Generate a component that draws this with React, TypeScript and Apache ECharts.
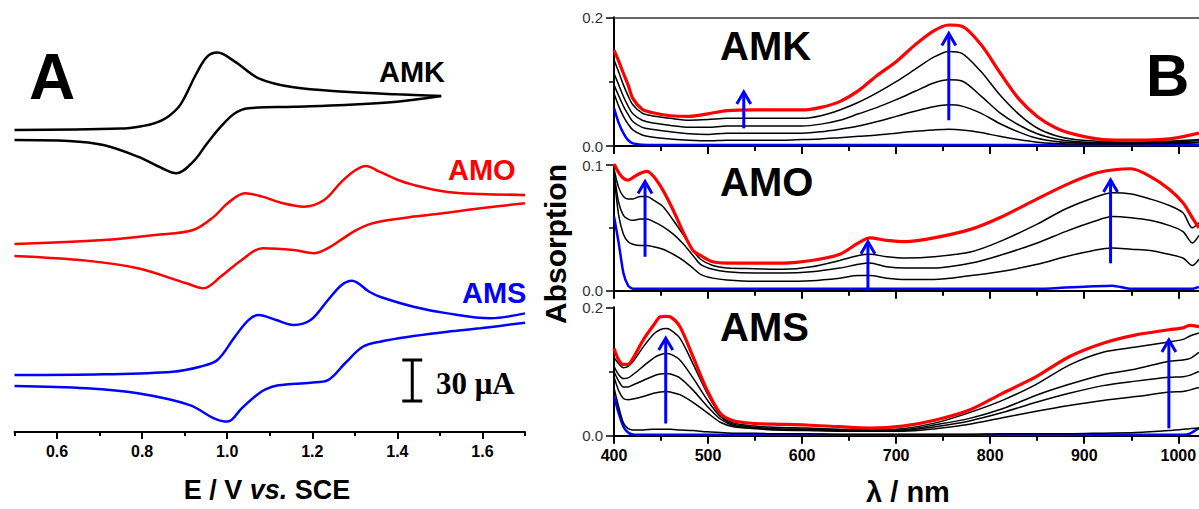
import React, { useEffect, useRef } from "react";
import * as echarts from "echarts";

// ---------------- Panel A: cyclic voltammograms (E in V, I in µA relative to start) -------------
const cvNames = ["AMK", "AMO", "AMS"];
const cvColors = ["#000000", "#ff0000", "#0000ff"];
const cvOffsets = [221, 137.6, 41.7];

const amkFwdE = [0.5, 0.75, 0.8, 0.83, 0.86, 0.89, 0.928, 0.953, 0.977, 1.018, 1.074, 1.156, 1.277, 1.399, 1.503];
const amkFwdI = [0, 1.0, 2.8, 5.0, 9.5, 18.5, 41.5, 53.6, 56.6, 50.0, 37.8, 31.2, 28.0, 26.1, 24.9];
const amkRevE = [0.5, 0.628, 0.709, 0.79, 0.847, 0.88, 0.92, 0.953, 0.985, 1.018, 1.05, 1.156, 1.277, 1.399, 1.503];
const amkRevI = [-7.3, -8.0, -11.0, -19.5, -28.0, -31.7, -23.2, -9.7, 2.4, 12.2, 15.9, 17.0, 18.3, 20.7, 24.9];

const amoFwdE = [0.5, 0.709, 0.831, 0.92, 0.969, 1.001, 1.042, 1.083, 1.131, 1.18, 1.228, 1.269, 1.302, 1.326, 1.358, 1.4, 1.438, 1.518, 1.595, 1.7];
const amoFwdI = [0, 2.9, 6.6, 10.2, 20.0, 29.8, 37.1, 34.6, 29.8, 27.3, 32.2, 45.6, 54.1, 57.1, 52.9, 47.0, 43.2, 38.0, 36.6, 35.9];
const amoRevE = [0.5, 0.669, 0.79, 0.904, 0.944, 0.985, 1.034, 1.083, 1.156, 1.204, 1.237, 1.27, 1.3, 1.33, 1.36, 1.438, 1.518, 1.595, 1.7];
const amoRevI = [-8.8, -12.2, -17.8, -28.8, -32.4, -23.9, -11.7, -3.1, -4.4, -6.8, -3.0, 3.5, 9.5, 14.0, 16.5, 20.0, 22.9, 26.1, 29.8];

const amsFwdE = [0.5, 0.709, 0.872, 0.936, 0.977, 1.018, 1.05, 1.074, 1.115, 1.156, 1.196, 1.237, 1.269, 1.293, 1.334, 1.359, 1.438, 1.518, 1.618, 1.7];
const amsFwdI = [0, 0.5, 2.4, 6.1, 11.0, 28.0, 40.2, 43.9, 40.2, 36.6, 40.2, 54.9, 65.9, 69.0, 60.9, 57.3, 50.0, 45.1, 41.5, 45.1];
const amsRevE = [0.5, 0.669, 0.79, 0.912, 0.969, 1.001, 1.034, 1.066, 1.09, 1.12, 1.196, 1.237, 1.277, 1.318, 1.359, 1.438, 1.518, 1.595, 1.7];
const amsRevI = [-8.0, -9.7, -13.4, -22.0, -31.7, -34.1, -24.4, -15.5, -10.5, -7.5, -5.6, -3.7, 8.6, 20.5, 24.4, 28.5, 31.7, 34.2, 38.3];

const cvTicksMajor = [0.6, 0.8, 1.0, 1.2, 1.4, 1.6];
const scaleBarE = 1.435;
const scaleBarBase = 22.7;
const scaleBarSpan = 30; // µA
const scaleBarCap = 0.0235;

// ---------------- Panel B: absorption spectra -------------
const amkWl = [400, 405, 410, 415, 420, 430, 440, 460, 480, 500, 520, 550, 580, 600, 620, 640, 660, 680, 700, 720, 740, 756, 770, 790, 810, 830, 850, 870, 890, 920, 950, 980, 1000, 1022];
const amkRed = [0.149, 0.132, 0.113, 0.095, 0.074, 0.057, 0.052, 0.047, 0.046, 0.05, 0.055, 0.056, 0.056, 0.056, 0.06, 0.069, 0.086, 0.11, 0.131, 0.157, 0.179, 0.188, 0.186, 0.158, 0.115, 0.074, 0.046, 0.028, 0.018, 0.01, 0.009, 0.01, 0.013, 0.02];
const amkBlack1 = [0.134, 0.115, 0.095, 0.078, 0.064, 0.051, 0.047, 0.043, 0.04, 0.041, 0.043, 0.043, 0.043, 0.043, 0.047, 0.056, 0.068, 0.083, 0.1, 0.119, 0.138, 0.147, 0.144, 0.116, 0.08, 0.05, 0.028, 0.016, 0.01, 0.007, 0.006, 0.007, 0.008, 0.01];
const amkBlack2 = [0.113, 0.095, 0.077, 0.062, 0.05, 0.04, 0.036, 0.032, 0.029, 0.029, 0.031, 0.031, 0.031, 0.031, 0.034, 0.04, 0.05, 0.06, 0.072, 0.085, 0.098, 0.103, 0.101, 0.078, 0.052, 0.033, 0.019, 0.011, 0.007, 0.005, 0.005, 0.006, 0.007, 0.008];
const amkBlack3 = [0.095, 0.078, 0.062, 0.049, 0.038, 0.029, 0.026, 0.022, 0.019, 0.018, 0.02, 0.02, 0.02, 0.02, 0.022, 0.026, 0.031, 0.038, 0.046, 0.054, 0.061, 0.064, 0.062, 0.051, 0.035, 0.022, 0.012, 0.007, 0.005, 0.004, 0.004, 0.005, 0.005, 0.006];
const amkBlack4 = [0.082, 0.062, 0.046, 0.034, 0.025, 0.017, 0.014, 0.011, 0.009, 0.008, 0.009, 0.009, 0.009, 0.01, 0.011, 0.013, 0.015, 0.017, 0.02, 0.023, 0.025, 0.026, 0.025, 0.021, 0.015, 0.01, 0.006, 0.004, 0.003, 0.003, 0.003, 0.004, 0.004, 0.005];
const amkBlue = [0.059, 0.036, 0.02, 0.009, 0.004, 0.002, 0.0015, 0.0015, 0.0015, 0.0015, 0.0015, 0.0015, 0.0015, 0.0015, 0.0015, 0.0015, 0.0015, 0.0015, 0.0015, 0.0015, 0.0015, 0.0015, 0.0015, 0.0015, 0.0015, 0.0015, 0.0015, 0.0015, 0.0015, 0.0015, 0.0015, 0.0015, 0.0015, 0.0015];
const amkArrowWl = [538, 756];
const amkArrowFrom = [0.0275, 0.04];
const amkArrowTo = [0.084, 0.175];

const amoWl = [400, 405, 410, 415, 420, 428, 435, 442, 452, 463, 474, 484, 492, 505, 520, 550, 580, 610, 640, 660, 672, 690, 710, 740, 780, 810, 850, 880, 910, 930, 950, 970, 990, 1005, 1015, 1022];
const amoRed = [0.101, 0.094, 0.0895, 0.088, 0.09, 0.0935, 0.095, 0.091, 0.08, 0.064, 0.046, 0.032, 0.028, 0.023, 0.022, 0.022, 0.022, 0.024, 0.029, 0.038, 0.042, 0.04, 0.039, 0.042, 0.049, 0.058, 0.073, 0.084, 0.093, 0.096, 0.097, 0.091, 0.081, 0.07, 0.058, 0.05];
const amoBlack1 = [0.097, 0.082, 0.075, 0.073, 0.073, 0.075, 0.075, 0.072, 0.067, 0.056, 0.044, 0.032, 0.025, 0.02, 0.018, 0.0175, 0.017, 0.019, 0.024, 0.028, 0.029, 0.027, 0.026, 0.027, 0.031, 0.039, 0.053, 0.065, 0.074, 0.078, 0.077, 0.073, 0.068, 0.062, 0.05, 0.054];
const amoBlack2 = [0.095, 0.07, 0.06, 0.057, 0.056, 0.057, 0.057, 0.055, 0.051, 0.045, 0.037, 0.028, 0.021, 0.017, 0.015, 0.014, 0.014, 0.015, 0.018, 0.021, 0.022, 0.019, 0.018, 0.018, 0.022, 0.028, 0.038, 0.047, 0.055, 0.059, 0.058, 0.056, 0.052, 0.047, 0.038, 0.044];
const amoBlack3 = [0.092, 0.06, 0.045, 0.039, 0.037, 0.036, 0.036, 0.035, 0.033, 0.029, 0.024, 0.018, 0.013, 0.01, 0.0085, 0.0075, 0.0075, 0.008, 0.01, 0.012, 0.012, 0.01, 0.009, 0.009, 0.012, 0.015, 0.021, 0.027, 0.032, 0.034, 0.033, 0.032, 0.029, 0.026, 0.02, 0.025];
const amoBlue = [0.059, 0.038, 0.014, 0.004, 0.0015, 0.0015, 0.0015, 0.0015, 0.0015, 0.0015, 0.0015, 0.0015, 0.0015, 0.0015, 0.0015, 0.0015, 0.0015, 0.0015, 0.0015, 0.0015, 0.0015, 0.0015, 0.0015, 0.0015, 0.0015, 0.0015, 0.0015, 0.0025, 0.0035, 0.004, 0.0015, 0.0015, 0.0015, 0.0015, 0.0015, 0.003];
const amoArrowWl = [433, 670, 928];
const amoArrowFrom = [0.027, 0.0, 0.0218];
const amoArrowTo = [0.0868, 0.039, 0.088];

const amsWl = [400, 405, 410, 415, 420, 431, 442, 449, 455, 460, 470, 484, 499, 513, 527, 550, 570, 605, 640, 672, 707, 742, 778, 813, 849, 884, 920, 955, 990, 1005, 1012, 1022];
const amsRed = [0.136, 0.118, 0.111, 0.111, 0.12, 0.149, 0.172, 0.185, 0.186, 0.185, 0.17, 0.123, 0.071, 0.035, 0.0234, 0.019, 0.018, 0.0167, 0.014, 0.012, 0.015, 0.0245, 0.04, 0.066, 0.092, 0.123, 0.144, 0.157, 0.165, 0.168, 0.172, 0.17];
const amsBlack1 = [0.122, 0.112, 0.106, 0.108, 0.115, 0.138, 0.158, 0.165, 0.167, 0.165, 0.152, 0.112, 0.066, 0.033, 0.02, 0.015, 0.013, 0.012, 0.01, 0.009, 0.011, 0.02, 0.036, 0.055, 0.08, 0.11, 0.13, 0.138, 0.146, 0.15, 0.155, 0.16];
const amsBlack2 = [0.108, 0.095, 0.089, 0.09, 0.095, 0.108, 0.121, 0.126, 0.128, 0.127, 0.118, 0.09, 0.056, 0.03, 0.018, 0.013, 0.011, 0.01, 0.009, 0.008, 0.009, 0.017, 0.027, 0.042, 0.063, 0.08, 0.095, 0.104, 0.116, 0.118, 0.12, 0.13];
const amsBlack3 = [0.1, 0.085, 0.076, 0.076, 0.079, 0.086, 0.093, 0.096, 0.097, 0.096, 0.09, 0.071, 0.046, 0.026, 0.016, 0.012, 0.01, 0.009, 0.008, 0.0075, 0.008, 0.014, 0.023, 0.036, 0.052, 0.066, 0.078, 0.085, 0.091, 0.092, 0.094, 0.1];
const amsBlack4 = [0.092, 0.07, 0.058, 0.056, 0.057, 0.061, 0.066, 0.068, 0.069, 0.068, 0.064, 0.052, 0.036, 0.021, 0.014, 0.011, 0.009, 0.008, 0.007, 0.007, 0.007, 0.011, 0.018, 0.028, 0.038, 0.047, 0.055, 0.061, 0.068, 0.069, 0.071, 0.075];
const amsBlack5 = [0.075, 0.045, 0.02, 0.011, 0.009, 0.009, 0.01, 0.01, 0.01, 0.01, 0.009, 0.008, 0.006, 0.005, 0.004, 0.004, 0.003, 0.003, 0.002, 0.002, 0.002, 0.002, 0.002, 0.003, 0.003, 0.003, 0.004, 0.005, 0.008, 0.01, 0.011, 0.012];
const amsBlue = [0.062, 0.035, 0.014, 0.005, 0.002, 0.0015, 0.0015, 0.0015, 0.0015, 0.0015, 0.0015, 0.0015, 0.0015, 0.0015, 0.0015, 0.0015, 0.0015, 0.0015, 0.0015, 0.0015, 0.0015, 0.0015, 0.0015, 0.0015, 0.0015, 0.0015, 0.0015, 0.0015, 0.0015, 0.0015, 0.003, 0.012];
const amsArrowWl = [455, 990];
const amsArrowFrom = [0.019, 0.0115];
const amsArrowTo = [0.152, 0.149];

const FONT = '"Liberation Sans", Arial, sans-serif';

function zip(xs: number[], ys: number[], off = 0) {
  return xs.map((x, i) => [x, ys[i] + off]);
}

function arrowRender(params: any, api: any) {
  const x = api.value(0);
  const p0 = api.coord([x, api.value(1)]);
  const p1 = api.coord([x, api.value(2)]);
  const c = "#0000ff";
  return {
    type: "group",
    children: [
      { type: "line", shape: { x1: p0[0], y1: p0[1], x2: p1[0], y2: p1[1] + 1 }, style: { stroke: c, lineWidth: 3 } },
      {
        type: "polyline",
        shape: { points: [[p1[0] - 7, p1[1] + 12], [p1[0], p1[1]], [p1[0] + 7, p1[1] + 12]] },
        style: { stroke: c, lineWidth: 3, fill: null },
      },
    ],
  };
}

function buildOption() {
  const series: any[] = [];
  const line = (data: number[][], color: string, width: number, xi: number, yi: number, smooth = 0.3) => ({
    type: "line",
    data,
    xAxisIndex: xi,
    yAxisIndex: yi,
    showSymbol: false,
    symbol: "none",
    smooth,
    lineStyle: { color, width },
    itemStyle: { color },
    silent: true,
  });

  // Panel A
  const cv = [
    [amkFwdE, amkFwdI, amkRevE, amkRevI],
    [amoFwdE, amoFwdI, amoRevE, amoRevI],
    [amsFwdE, amsFwdI, amsRevE, amsRevI],
  ];
  cv.forEach((c, k) => {
    series.push(line(zip(c[0], c[1], cvOffsets[k]), cvColors[k], 2.5, 0, 0, 0.35));
    series.push(line(zip(c[2], c[3], cvOffsets[k]), cvColors[k], 2.5, 0, 0, 0.35));
  });
  const top = scaleBarBase + scaleBarSpan;
  series.push(line([[scaleBarE, scaleBarBase], [scaleBarE, top]], "#000", 3, 0, 0, 0));
  series.push(line([[scaleBarE - scaleBarCap, scaleBarBase], [scaleBarE + scaleBarCap, scaleBarBase]], "#000", 3, 0, 0, 0));
  series.push(line([[scaleBarE - scaleBarCap, top], [scaleBarE + scaleBarCap, top]], "#000", 3, 0, 0, 0));

  // Panel B
  const panels = [
    { wl: amkWl, blue: amkBlue, blacks: [amkBlack4, amkBlack3, amkBlack2, amkBlack1], red: amkRed, ax: [amkArrowWl, amkArrowFrom, amkArrowTo], xi: 2, yi: 1 },
    { wl: amoWl, blue: amoBlue, blacks: [amoBlack3, amoBlack2, amoBlack1], red: amoRed, ax: [amoArrowWl, amoArrowFrom, amoArrowTo], xi: 4, yi: 2 },
    { wl: amsWl, blue: amsBlue, blacks: [amsBlack5, amsBlack4, amsBlack3, amsBlack2, amsBlack1], red: amsRed, ax: [amsArrowWl, amsArrowFrom, amsArrowTo], xi: 5, yi: 3 },
  ];
  panels.forEach((p) => {
    series.push(line(zip(p.wl, p.blue), "#0000ff", 2.5, p.xi, p.yi, 0.2));
    p.blacks.forEach((b) => series.push(line(zip(p.wl, b), "#000000", 1.5, p.xi, p.yi, 0.3)));
    series.push(line(zip(p.wl, p.red), "#ff0000", 3.2, p.xi, p.yi, 0.3));
    series.push({
      type: "custom",
      xAxisIndex: p.xi,
      yAxisIndex: p.yi,
      data: p.ax[0].map((w, i) => [w, p.ax[1][i], p.ax[2][i]]),
      encode: { x: 0, y: [1, 2] },
      renderItem: arrowRender,
      clip: false,
      z: 10,
      silent: true,
    });
  });

  const bX = (gridIndex: number, labels: boolean) => ({
    type: "value",
    gridIndex,
    min: 400,
    max: 1050,
    interval: 100,
    position: "bottom",
    axisLine: { show: true, onZero: false, lineStyle: { color: "#000", width: 2 } },
    axisTick: { show: true, length: 8, inside: false, lineStyle: { color: "#000", width: 2 } },
    minorTick: { show: true, splitNumber: 2, length: 5, lineStyle: { color: "#000", width: 2 } },
    splitLine: { show: false },
    minorSplitLine: { show: false },
    axisLabel: labels
      ? {
          show: true,
          margin: 12,
          color: "#000",
          fontFamily: FONT,
          fontWeight: "bold",
          fontSize: 16,
          formatter: (v: number) => (v % 100 === 0 && v <= 1000 ? String(v) : ""),
        }
      : { show: false },
  });

  const bY = (gridIndex: number, max: number) => ({
    type: "value",
    gridIndex,
    min: 0,
    max,
    interval: max,
    axisLine: { show: true, onZero: false, lineStyle: { color: "#000", width: 2 } },
    axisTick: { show: true, length: 8, lineStyle: { color: "#000", width: 1.5 } },
    minorTick: { show: true, splitNumber: 2, length: 5, lineStyle: { color: "#000", width: 1.5 } },
    splitLine: { show: false },
    minorSplitLine: { show: false },
    axisLabel: { show: true, margin: 11, color: "#333", fontFamily: FONT, fontSize: 15, formatter: (v: number) => v.toFixed(1) },
  });

  return {
    animation: false,
    backgroundColor: "#ffffff",
    grid: [
      { left: 14.5, right: 674, top: 22, height: 410, outerBoundsMode: "none", containLabel: false },
      { left: 614, width: 611.3, top: 17.3, height: 128.7, outerBoundsMode: "none", containLabel: false },
      { left: 614, width: 611.3, top: 165, height: 125.7, outerBoundsMode: "none", containLabel: false },
      { left: 614, width: 611.3, top: 307.3, height: 128.4, outerBoundsMode: "none", containLabel: false },
    ],
    xAxis: [
      {
        type: "value",
        gridIndex: 0,
        min: 0.5,
        max: 1.7,
        interval: 0.1,
        position: "bottom",
        axisLine: { show: true, onZero: false, lineStyle: { color: "#000", width: 2 } },
        axisTick: { show: true, length: 4, lineStyle: { color: "#000", width: 2 } },
        splitLine: { show: false },
        axisLabel: {
          margin: 11,
          color: "#000",
          fontFamily: FONT,
          fontWeight: "bold",
          fontSize: 16,
          formatter: (v: number) => {
            const k = Math.round(v * 10);
            return k % 2 === 0 ? (k / 10).toFixed(1) : "";
          },
        },
      },
      {
        type: "value",
        gridIndex: 0,
        min: 0.5,
        max: 1.7,
        position: "bottom",
        axisLine: { show: false, onZero: false },
        axisTick: { show: true, length: 7, customValues: cvTicksMajor, lineStyle: { color: "#000", width: 2 } },
        axisLabel: { show: false },
        splitLine: { show: false },
      },
      bX(1, false),
      {
        type: "value",
        gridIndex: 1,
        min: 400,
        max: 1050,
        position: "top",
        axisLine: { show: true, onZero: false, lineStyle: { color: "#333", width: 1.5 } },
        axisTick: { show: false },
        axisLabel: { show: false },
        splitLine: { show: false },
      },
      bX(2, false),
      bX(3, true),
    ],
    yAxis: [
      { type: "value", gridIndex: 0, min: 0, max: 300, show: false },
      bY(1, 0.2),
      bY(2, 0.1),
      bY(3, 0.2),
    ],
    series,
    graphic: [
      { type: "text", x: 29, y: 77, style: { text: "A", font: `bold 64px ${FONT}`, fill: "#000", textAlign: "left", textVerticalAlign: "middle" } },
      { type: "text", x: 379, y: 72, style: { text: cvNames[0], font: `bold 29px ${FONT}`, fill: cvColors[0], textAlign: "left", textVerticalAlign: "middle" } },
      { type: "text", x: 448, y: 170, style: { text: cvNames[1], font: `bold 29px ${FONT}`, fill: cvColors[1], textAlign: "left", textVerticalAlign: "middle" } },
      { type: "text", x: 462, y: 293, style: { text: cvNames[2], font: `bold 29px ${FONT}`, fill: cvColors[2], textAlign: "left", textVerticalAlign: "middle" } },
      { type: "text", x: 436, y: 383, style: { text: "30 μA", font: 'bold 31px "Liberation Serif", "Times New Roman", serif', fill: "#000", textAlign: "left", textVerticalAlign: "middle" } },
      {
        type: "text",
        x: 267,
        y: 490,
        style: {
          text: "{n|E / V }{i|vs.}{n| SCE}",
          textAlign: "center",
          textVerticalAlign: "middle",
          rich: {
            n: { font: `bold 27px ${FONT}`, fill: "#000" },
            i: { font: `italic bold 27px ${FONT}`, fill: "#000" },
          },
        },
      },
      { type: "text", x: 720, y: 46, style: { text: "AMK", font: `bold 40px ${FONT}`, fill: "#000", textAlign: "left", textVerticalAlign: "middle" } },
      { type: "text", x: 720, y: 182, style: { text: "AMO", font: `bold 40px ${FONT}`, fill: "#000", textAlign: "left", textVerticalAlign: "middle" } },
      { type: "text", x: 720, y: 327, style: { text: "AMS", font: `bold 40px ${FONT}`, fill: "#000", textAlign: "left", textVerticalAlign: "middle" } },
      { type: "text", x: 1146, y: 75, style: { text: "B", font: `bold 60px ${FONT}`, fill: "#000", textAlign: "left", textVerticalAlign: "middle" } },
      { type: "text", x: 555, y: 244, rotation: Math.PI / 2, style: { text: "Absorption", font: `bold 30px ${FONT}`, fill: "#000", textAlign: "center", textVerticalAlign: "middle" } },
      { type: "text", x: 908, y: 492, style: { text: "λ / nm", font: `bold 29px ${FONT}`, fill: "#000", textAlign: "center", textVerticalAlign: "middle" } },
    ],
  };
}

export default function App() {
  const ref = useRef<HTMLDivElement>(null);
  useEffect(() => {
    if (!ref.current) return;
    const chart = echarts.init(ref.current, null, { renderer: "svg" });
    chart.setOption(buildOption() as any);
    return () => chart.dispose();
  }, []);
  return (
    <div
      ref={ref}
      style={{ position: "absolute", left: 0, top: 0, width: 1199, height: 509, background: "#fff", overflow: "hidden" }}
    />
  );
}
